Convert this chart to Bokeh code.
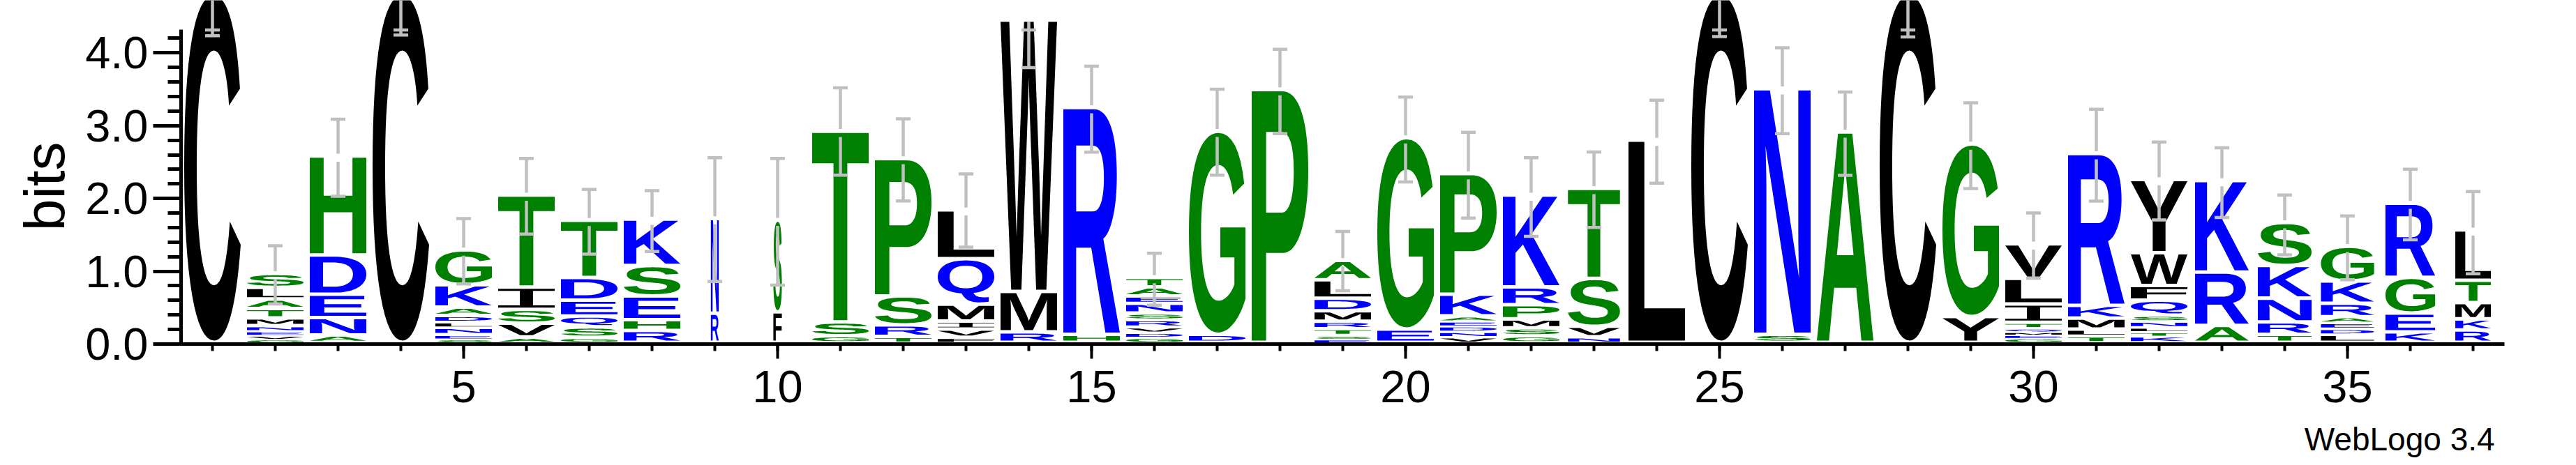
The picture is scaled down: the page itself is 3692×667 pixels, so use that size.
import math, os, glob, struct, subprocess
from bokeh.plotting import figure
from bokeh.models import (Range1d, FixedTicker, NumeralTickFormatter, ColumnDataSource,
                          LinearAxis, CustomJSTickFormatter)
from bokeh.core.properties import value
from bokeh.embed import file_html
from bokeh.resources import INLINE

# ---------------- data ----------------
positions = list(range(1, 38))
# letters of each stack, bottom -> top
stack_letters = ["C", "GVENMTALS", "ANEDH", "C", "SENLDAKG", "AVSIT", "GSQEDT", "RHESK", "RN", "FS",
                 "GST", "TRSP", "FVIMQL", "RMW", "HR", "GDVRSNEAT", "DG", "P", "ESTRMDLA", "EG",
                 "VNDEAKP", "GSMPRK", "NVST", "L", "C", "SN", "A", "C", "YG", "GEMQTILV",
                 "TLMKR", "KTLNSQFWY", "ARK", "TRNKS", "LDEARKG", "KEGR", "RKMTL"]
# letter heights in bits, bottom -> top
stack_heights = [
    [4.79],
    [0.05, 0.05, 0.06, 0.07, 0.105, 0.13, 0.13, 0.16, 0.19],
    [0.10, 0.24, 0.32, 0.54, 1.36],
    [4.79],
    [0.05, 0.06, 0.096, 0.077, 0.086, 0.115, 0.307, 0.479],
    [0.073, 0.19, 0.19, 0.307, 1.264],
    [0.069, 0.143, 0.150, 0.218, 0.311, 0.786],
    [0.163, 0.149, 0.326, 0.417, 0.637],
    [0.40, 1.30],
    [0.418, 1.26],
    [0.09, 0.19, 2.62],
    [0.082, 0.158, 0.398, 1.887],
    [0.069, 0.114, 0.110, 0.232, 0.624, 0.672],
    [0.143, 0.557, 3.728],
    [0.111, 3.115],
    [0.07, 0.07, 0.072, 0.10, 0.091, 0.134, 0.10, 0.125, 0.129],
    [0.111, 2.789],
    [3.471],
    [0.05, 0.05, 0.09, 0.10, 0.144, 0.172, 0.254, 0.265],
    [0.183, 2.629],
    [0.077, 0.073, 0.077, 0.067, 0.069, 0.298, 1.658],
    [0.089, 0.110, 0.123, 0.195, 0.245, 1.262],
    [0.077, 0.143, 0.658, 1.237],
    [2.778],
    [4.79],
    [0.111, 3.372],
    [2.889],
    [4.79],
    [0.354, 2.372],
    [0.063, 0.048, 0.04, 0.048, 0.077, 0.251, 0.352, 0.475],
    [0.089, 0.094, 0.150, 0.175, 2.086],
    [0.089, 0.060, 0.062, 0.081, 0.081, 0.206, 0.201, 0.45, 1.006],
    [0.232, 0.734, 1.255],
    [0.111, 0.17, 0.326, 0.448, 0.591],
    [0.111, 0.08, 0.082, 0.08, 0.183, 0.306, 0.477],
    [0.143, 0.26, 0.489, 1.02],
    [0.169, 0.153, 0.224, 0.306, 0.693],
]
# fraction of the column occupied (gap-scaled stack width)
stack_width = [1.0] * 8 + [0.14, 0.15] + [1.0] * 12 + [0.92] + [1.0] * 9 + [0.95, 0.95, 0.94, 0.88, 0.63]
# error bar limits (bits)
err_lo = [4.235, 0.55, 2.03, 4.245, 0.825, 1.51, 1.236, 1.272, 0.86, 0.81,
          2.32, 1.966, 1.332, 3.797, 2.636, 0.533, 2.32, 2.89, 0.733, 2.226,
          1.731, 1.48, 1.601, 2.21, 4.225, 2.89, 2.318, 4.22, 2.136, 0.904,
          1.964, 1.704, 1.739, 1.227, 0.884, 1.433, 0.964]
err_hi = [4.316, 1.35, 3.09, 4.316, 1.725, 2.55, 2.124, 2.108, 2.56, 2.55,
          3.52, 3.094, 2.338, 4.316, 3.818, 1.247, 3.50, 4.05, 1.547, 3.394,
          2.909, 2.56, 2.639, 3.35, 4.316, 4.07, 3.462, 4.316, 3.314, 1.80,
          3.226, 2.776, 2.697, 2.047, 1.76, 2.401, 2.096]
y_major = [0, 1, 2, 3, 4]
x_major = [5, 10, 15, 20, 25, 30, 35]
y_title = "bits"
y_title_at = 2.166
credit = "WebLogo 3.4"
credit_at = 35.83

COLORS = {}
for ch in "RKDENQ":
    COLORS[ch] = "#0000ff"
for ch in "SGHTAP":
    COLORS[ch] = "#008000"
for ch in "YVMCLFIW":
    COLORS[ch] = "#000000"

# ---------------- font outline reader ----------------
FONT_ROOTS = ["/usr/share/fonts", "/usr/local/share/fonts", os.path.expanduser("~/.fonts")]


def find_file(patterns, fc_names=()):
    for pat in patterns:
        for root in FONT_ROOTS:
            hits = sorted(glob.glob(os.path.join(root, "**", pat), recursive=True))
            if hits:
                return hits[0]
    for n in fc_names:
        try:
            out = subprocess.run(["fc-match", "-f", "%{file}", n], capture_output=True,
                                 text=True, timeout=10).stdout.strip()
            if out.lower().endswith(".ttf") and os.path.exists(out):
                return out
        except Exception:
            pass
    return None


def flatten(pts, on, n=8):
    N = len(pts)
    ex = []
    for i in range(N):
        ex.append((pts[i], on[i]))
        j = (i + 1) % N
        if not on[i] and not on[j]:
            ex.append((((pts[i][0] + pts[j][0]) / 2, (pts[i][1] + pts[j][1]) / 2), True))
    k = next(i for i, e in enumerate(ex) if e[1])
    ex = ex[k:] + ex[:k]
    M = len(ex)
    out = [ex[0][0]]
    i = 0
    while i < M:
        p0 = ex[i][0]
        nx = ex[(i + 1) % M]
        if nx[1]:
            out.append(nx[0])
            i += 1
        else:
            c = nx[0]
            p2 = ex[(i + 2) % M][0]
            for t in range(1, n + 1):
                tt = t / n
                a, b, cc = (1 - tt) ** 2, 2 * (1 - tt) * tt, tt * tt
                out.append((a * p0[0] + b * c[0] + cc * p2[0], a * p0[1] + b * c[1] + cc * p2[1]))
            i += 2
    return out[:-1]


class TTF:
    def __init__(self, path):
        d = open(path, "rb").read()
        self.d = d
        n = struct.unpack(">H", d[4:6])[0]
        self.t = {}
        for i in range(n):
            tag, _, off, ln = struct.unpack(">4sIII", d[12 + 16 * i:28 + 16 * i])
            self.t[tag.decode("latin1")] = off
        head = self.t["head"]
        locfmt = struct.unpack(">h", d[head + 50:head + 52])[0]
        maxp = self.t["maxp"]
        ng = struct.unpack(">H", d[maxp + 4:maxp + 6])[0]
        lo = self.t["loca"]
        if locfmt == 0:
            self.loca = [2 * v for v in struct.unpack(">%dH" % (ng + 1), d[lo:lo + 2 * (ng + 1)])]
        else:
            self.loca = list(struct.unpack(">%dI" % (ng + 1), d[lo:lo + 4 * (ng + 1)]))
        self.glyf = self.t["glyf"]
        self.cmap = self._cmap()

    def _cmap(self):
        d = self.d
        c = self.t["cmap"]
        n = struct.unpack(">H", d[c + 2:c + 4])[0]
        sub = None
        for i in range(n):
            pid, eid, off = struct.unpack(">HHI", d[c + 4 + 8 * i:c + 12 + 8 * i])
            s = c + off
            fmt = struct.unpack(">H", d[s:s + 2])[0]
            if fmt == 4 and ((pid == 3 and eid == 1) or pid == 0):
                sub = s
                break
        m = {}
        if sub is None:
            return m
        segx2 = struct.unpack(">H", d[sub + 6:sub + 8])[0]
        seg = segx2 // 2
        ends = struct.unpack(">%dH" % seg, d[sub + 14:sub + 14 + segx2])
        so = sub + 16 + segx2
        starts = struct.unpack(">%dH" % seg, d[so:so + segx2])
        do = so + segx2
        deltas = struct.unpack(">%dH" % seg, d[do:do + segx2])
        ro = do + segx2
        ros = struct.unpack(">%dH" % seg, d[ro:ro + segx2])
        for code in range(65, 91):
            for s in range(seg):
                if ends[s] >= code:
                    if starts[s] <= code:
                        if ros[s] == 0:
                            g = (code + deltas[s]) & 0xFFFF
                        else:
                            a = ro + 2 * s + ros[s] + 2 * (code - starts[s])
                            g = struct.unpack(">H", d[a:a + 2])[0]
                            if g:
                                g = (g + deltas[s]) & 0xFFFF
                        m[chr(code)] = g
                    break
        return m

    def contours(self, gid, dx=0, dy=0):
        d = self.d
        a = self.glyf + self.loca[gid]
        b = self.glyf + self.loca[gid + 1]
        if b <= a:
            return []
        nc = struct.unpack(">h", d[a:a + 2])[0]
        p = a + 10
        if nc < 0:
            res = []
            while True:
                flags, cg = struct.unpack(">HH", d[p:p + 4])
                p += 4
                if flags & 1:
                    a1, a2 = struct.unpack(">hh", d[p:p + 4])
                    p += 4
                else:
                    a1, a2 = struct.unpack(">bb", d[p:p + 2])
                    p += 2
                if flags & 8:
                    p += 2
                elif flags & 0x40:
                    p += 4
                elif flags & 0x80:
                    p += 8
                ox, oy = (a1, a2) if flags & 2 else (0, 0)
                res += self.contours(cg, dx + ox, dy + oy)
                if not flags & 0x20:
                    break
            return res
        ends = struct.unpack(">%dH" % nc, d[p:p + 2 * nc])
        p += 2 * nc
        il = struct.unpack(">H", d[p:p + 2])[0]
        p += 2 + il
        npts = ends[-1] + 1
        fl = []
        while len(fl) < npts:
            f = d[p]
            p += 1
            fl.append(f)
            if f & 8:
                r = d[p]
                p += 1
                fl.extend([f] * r)
        fl = fl[:npts]
        xs, v = [], 0
        for f in fl:
            if f & 2:
                dd = d[p]
                p += 1
                v += dd if f & 16 else -dd
            elif not f & 16:
                v += struct.unpack(">h", d[p:p + 2])[0]
                p += 2
            xs.append(v)
        ys, v = [], 0
        for f in fl:
            if f & 4:
                dd = d[p]
                p += 1
                v += dd if f & 32 else -dd
            elif not f & 32:
                v += struct.unpack(">h", d[p:p + 2])[0]
                p += 2
            ys.append(v)
        res, s = [], 0
        for e in ends:
            pts = [(xs[i] + dx, ys[i] + dy) for i in range(s, e + 1)]
            on = [bool(fl[i] & 1) for i in range(s, e + 1)]
            s = e + 1
            if len(pts) >= 2:
                res.append(flatten(pts, on))
        return res


def ring_area(r):
    n = len(r)
    return 0.5 * sum(r[i][0] * r[(i + 1) % n][1] - r[(i + 1) % n][0] * r[i][1] for i in range(n))


def inside(pt, r):
    x, y = pt
    c = False
    n = len(r)
    for i in range(n):
        x1, y1 = r[i]
        x2, y2 = r[(i + 1) % n]
        if (y1 > y) != (y2 > y):
            xi = x1 + (y - y1) * (x2 - x1) / (y2 - y1)
            if xi > x:
                c = not c
    return c


def group_rings(cs):
    if not cs:
        return []
    ar = [ring_area(c) for c in cs]
    big = max(range(len(cs)), key=lambda i: abs(ar[i]))
    sg = 1 if ar[big] > 0 else -1
    ext = [i for i in range(len(cs)) if ar[i] * sg > 0]
    polys = {i: [cs[i]] for i in ext}
    for h in range(len(cs)):
        if h in polys:
            continue
        cands = [i for i in ext if inside(cs[h][0], cs[i])]
        if cands:
            polys[min(cands, key=lambda i: abs(ar[i]))].append(cs[h])
    return list(polys.values())


def glyph_entry(font, ch):
    cs = font.contours(font.cmap[ch])
    allp = [pt for c in cs for pt in c]
    bbox = (min(q[0] for q in allp), max(q[0] for q in allp),
            min(q[1] for q in allp), max(q[1] for q in allp))
    return (group_rings(cs), bbox)


GLYPHS = {}
try:
    font = TTF(find_file(["LiberationSans-Bold.ttf", "DejaVuSans-Bold.ttf"],
                         ["Liberation Sans:style=Bold", "DejaVu Sans:style=Bold"]))
    for ch in set("".join(stack_letters)):
        GLYPHS[ch] = glyph_entry(font, ch)
except Exception:
    GLYPHS = {}
try:
    # the logo draws a serifed "I"
    ifile = find_file(["LiberationMono-Regular.ttf", "LiberationSerif-Regular.ttf"])
    if ifile:
        GLYPHS["I"] = glyph_entry(TTF(ifile), "I")
except Exception:
    pass

# ---------------- figure ----------------
Y_TOP = 4.722
p = figure(frame_width=3330, frame_height=493, x_range=Range1d(0.5, 37.5), y_range=Range1d(0, Y_TOP),
           min_border_left=259, min_border_right=87, min_border_top=0, min_border_bottom=158,
           output_backend="svg", toolbar_location=None)
p.outline_line_color = None
p.xgrid.visible = False
p.ygrid.visible = False
p.background_fill_color = "white"
p.border_fill_color = "white"

LETTER_W = 0.45     # half width of a full stack (data units)
LETTER_GAP = 0.048  # blank strip under each glyph (bits)

pxs, pys, pcol = [], [], []
tx, ty, tt, tc = [], [], [], []
for i, pos in enumerate(positions):
    base = 0.0
    hw = LETTER_W * stack_width[i]
    for ch, h in zip(stack_letters[i], stack_heights[i]):
        g = min(LETTER_GAP, 0.45 * h)
        y0, y1 = base + g, base + h
        x0, x1 = pos - hw, pos + hw
        if ch in GLYPHS:
            polys, (bx0, bx1, by0, by1) = GLYPHS[ch]
            sx = (x1 - x0) / (bx1 - bx0)
            sy = (y1 - y0) / (by1 - by0)
            shp_x, shp_y = [], []
            for poly in polys:
                shp_x.append([[x0 + (q[0] - bx0) * sx for q in ring] for ring in poly])
                shp_y.append([[y0 + (q[1] - by0) * sy for q in ring] for ring in poly])
            pxs.append(shp_x)
            pys.append(shp_y)
            pcol.append(COLORS[ch])
        else:
            tx.append(pos); ty.append(y0); tt.append(ch); tc.append(COLORS[ch])
        base += h

if pxs:
    p.multi_polygons(xs="xs", ys="ys", fill_color="color", line_color=None,
                     source=ColumnDataSource(dict(xs=pxs, ys=pys, color=pcol)))
if tx:
    p.text(x=tx, y=ty, text=tt, text_color=tc, text_align="center", text_baseline="bottom",
           text_font=value("Liberation Sans"), text_font_style="bold", text_font_size="40px")

# error bars
HALF_GAP = 0.055
CAP_W = 0.117
ex0, ey0, ex1, ey1 = [], [], [], []
for i, pos in enumerate(positions):
    top = sum(stack_heights[i])
    lo, hi = err_lo[i], err_hi[i]
    if lo < top - HALF_GAP and top + HALF_GAP < hi:
        ex0 += [pos, pos]; ex1 += [pos, pos]
        ey0 += [lo, top + HALF_GAP]; ey1 += [top - HALF_GAP, hi]
    elif top >= hi:
        ex0.append(pos); ex1.append(pos); ey0.append(lo); ey1.append(top)
    else:
        ex0.append(pos); ex1.append(pos); ey0.append(lo); ey1.append(hi)
    for yy in (lo, hi):
        ex0.append(pos - CAP_W); ex1.append(pos + CAP_W); ey0.append(yy); ey1.append(yy)
p.segment(x0=ex0, y0=ey0, x1=ex1, y1=ey1, line_color="#c0c0c0", line_width=4.5, line_cap="butt")

# axes
FONT = "Liberation Sans"
xa = p.xaxis[0]
ya = p.yaxis[0]
for ax in (xa, ya):
    ax.axis_line_width = 5
    ax.axis_line_color = "black"
    ax.major_tick_line_width = 5
    ax.minor_tick_line_width = 5
    ax.major_tick_line_color = "black"
    ax.minor_tick_line_color = "black"
    ax.major_tick_in = 0
    ax.minor_tick_in = 0
    ax.major_label_text_font = FONT
    ax.major_label_text_font_size = "65px"
    ax.major_label_text_color = "black"

xa.ticker = FixedTicker(ticks=x_major, minor_ticks=positions)
xa.major_tick_out = 21
xa.minor_tick_out = 10
xa.major_tick_line_width = 4
xa.minor_tick_line_width = 4
xa.major_label_standoff = 17

ya.ticker = FixedTicker(ticks=y_major, minor_ticks=[round(0.2 * k, 1) for k in range(0, 22)])
ya.formatter = NumeralTickFormatter(format="0.0")
ya.major_tick_out = 40
ya.minor_tick_out = 19
ya.major_label_standoff = 7
ya.bounds = (0, 4.316)


def text_axis(label, at, size, standoff, orientation="horizontal"):
    ax = LinearAxis(ticker=FixedTicker(ticks=[at], minor_ticks=[]),
                    formatter=CustomJSTickFormatter(code="return %r;" % label),
                    axis_line_color=None, major_tick_line_color=None, minor_tick_line_color=None,
                    major_tick_out=0, major_tick_in=0, minor_tick_out=0, minor_tick_in=0,
                    major_label_standoff=standoff, major_label_orientation=orientation,
                    major_label_text_font=FONT, major_label_text_font_size=size,
                    major_label_text_color="black")
    return ax


p.add_layout(text_axis(y_title, y_title_at, "82px", 10, "parallel"), "left")
p.add_layout(text_axis(credit, credit_at, "46px", 24), "below")

open("out.html", "w").write(file_html(p, INLINE))
